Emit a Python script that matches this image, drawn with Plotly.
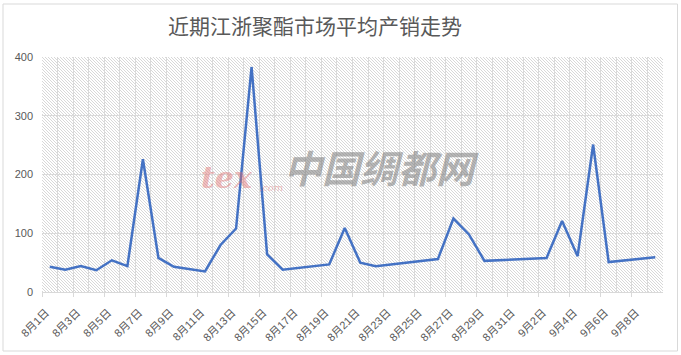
import base64
import plotly.graph_objects as go

# ---- data ----
dates = ["2023-08-01", "2023-08-02", "2023-08-03", "2023-08-04", "2023-08-05",
         "2023-08-06", "2023-08-07", "2023-08-08", "2023-08-09", "2023-08-11",
         "2023-08-12", "2023-08-13", "2023-08-14", "2023-08-15", "2023-08-16",
         "2023-08-19", "2023-08-20", "2023-08-21", "2023-08-22", "2023-08-26",
         "2023-08-27", "2023-08-28", "2023-08-29", "2023-09-02", "2023-09-03",
         "2023-09-04", "2023-09-05", "2023-09-06", "2023-09-09"]
values = [43, 38, 44, 37, 54,
          44, 226, 58, 43, 35,
          80, 108, 383, 64, 38,
          47, 109, 50, 44, 56,
          125, 98, 53, 58, 121,
          61, 251, 51, 59]
x_range = ["2023-08-01", "2023-09-10"]
tick_dates = ["2023-08-01", "2023-08-03", "2023-08-05", "2023-08-07", "2023-08-09",
              "2023-08-11", "2023-08-13", "2023-08-15", "2023-08-17", "2023-08-19",
              "2023-08-21", "2023-08-23", "2023-08-25", "2023-08-27", "2023-08-29",
              "2023-08-31", "2023-09-02", "2023-09-04", "2023-09-06", "2023-09-08"]
tick_labels = ["8月1日", "8月3日", "8月5日", "8月7日", "8月9日",
               "8月11日", "8月13日", "8月15日", "8月17日", "8月19日",
               "8月21日", "8月23日", "8月25日", "8月27日", "8月29日",
               "8月31日", "9月2日", "9月4日", "9月6日", "9月8日"]
y_ticks = [0, 100, 200, 300, 400]
title_text = "近期江浙聚酯市场平均产销走势"

# ---- geometry ----
W, H = 681, 355
L, R, T, B = 42, 18, 57, 63
pw, ph = W - L - R, H - T - B
DAY = 86400000


def px(x):
    return (x - L) / pw


def py(y):
    return 1 - (y - T) / ph


grid = "#d9d9d9"
text_col = "#595959"

# hatched plot-area background
svg = (f"<svg xmlns='http://www.w3.org/2000/svg' width='{pw}' height='{ph}'>"
       "<defs><pattern id='p' width='3' height='3' patternUnits='userSpaceOnUse'>"
       "<path d='M0,0 L3,3 M-1,2 L1,4 M2,-1 L4,1' stroke='#d8d8d8' stroke-width='1'/>"
       "</pattern></defs><rect width='100%' height='100%' fill='url(#p)'/></svg>")
svg_uri = "data:image/svg+xml;base64," + base64.b64encode(svg.encode()).decode()

fig = go.Figure()
fig.add_trace(go.Scatter(
    x=dates, y=values, mode="lines",
    xperiod=DAY, xperiodalignment="middle",
    line=dict(color="#4472C4", width=2.5),
    showlegend=False, hoverinfo="x+y",
))

wm_red = "rgba(225,110,110,0.45)"
fig.update_layout(
    width=W, height=H,
    margin=dict(l=L, r=R, t=T, b=B),
    paper_bgcolor="white",
    plot_bgcolor="rgba(0,0,0,0)",
    title=dict(text=title_text, x=315 / W, xanchor="center", xref="container",
               y=1 - 27 / H, yanchor="middle", yref="container",
               font=dict(family="Noto Sans CJK SC", size=21, color=text_col)),
    xaxis=dict(
        type="date", range=x_range,
        tickvals=tick_dates, ticktext=tick_labels, tickangle=-45,
        ticks="outside", ticklen=4, tickcolor=grid,
        ticklabelshift=4, ticklabelstandoff=5,
        showgrid=True, gridcolor=grid, gridwidth=1,
        minor=dict(tick0=x_range[0], dtick=DAY, showgrid=True,
                   gridcolor=grid, gridwidth=1, ticks=""),
        showline=True, linecolor=grid, linewidth=1,
        tickfont=dict(family="Liberation Sans, Noto Sans CJK SC", size=11, color=text_col),
        fixedrange=True,
    ),
    yaxis=dict(
        range=[0, 400], tickvals=y_ticks,
        showgrid=True, gridcolor=grid, gridwidth=1,
        zeroline=False, showline=False,
        ticklabelstandoff=8,
        tickfont=dict(family="Liberation Sans", size=11, color=text_col),
        fixedrange=True,
    ),
    images=[dict(source=svg_uri, xref="paper", yref="paper", x=0, y=1,
                 sizex=1, sizey=1, sizing="stretch", layer="below",
                 xanchor="left", yanchor="top")],
    shapes=[dict(type="rect", xref="paper", yref="paper",
                 x0=px(3), x1=px(677.5), y0=py(351), y1=py(4),
                 line=dict(color=grid, width=1), layer="below")],
    annotations=[
        dict(text="<i><b>tex</b></i>", xref="paper", yref="paper",
             x=px(255), xanchor="right", y=py(177), showarrow=False,
             font=dict(family="DejaVu Serif", size=30, color=wm_red)),
        dict(text="<i>.com</i>", xref="paper", yref="paper",
             x=px(257), xanchor="left", y=py(187), showarrow=False,
             font=dict(family="DejaVu Serif", size=10, color=wm_red)),
        dict(text="<b><i>中国绸都网</i></b>", xref="paper", yref="paper",
             x=px(381), y=py(166), showarrow=False,
             font=dict(family="Noto Sans CJK SC", size=38, color="rgba(120,120,120,0.55)")),
    ],
)

fig.write_html("out.html")
